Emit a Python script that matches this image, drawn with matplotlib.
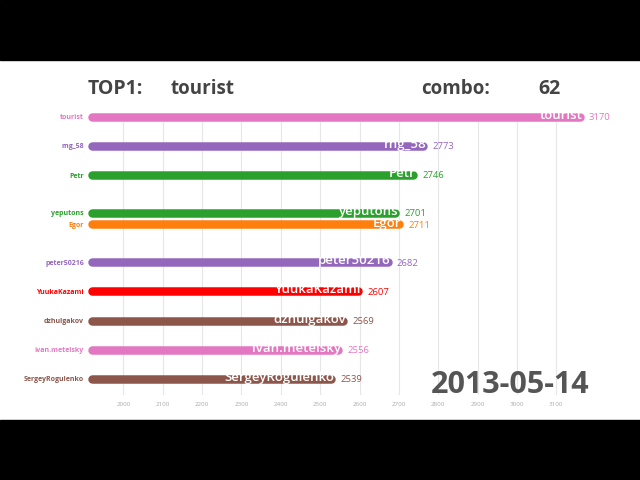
import matplotlib
matplotlib.use("Agg")
import matplotlib.pyplot as plt
from matplotlib.patches import Rectangle

# ---- data ----
names = ["tourist", "rng_58", "Petr", "yeputons", "Egor", "peter50216",
         "YuukaKazami", "dzhulgakov", "ivan.metelsky", "SergeyRogulenko"]
ratings = [3170, 2773, 2746, 2701, 2711, 2682, 2607, 2569, 2556, 2539]
positions = [0, 1, 2, 3.3, 3.7, 5, 6, 7, 8, 9]   # animated rank positions
xticks = [2000, 2100, 2200, 2300, 2400, 2500, 2600, 2700, 2800, 2900, 3000, 3100]
top_name = "tourist"
combo = 62
date_label = "2013-05-14"

colors = ["#e377c2", "#9467bd", "#2ca02c", "#2ca02c", "#ff7f0e", "#9467bd",
          "#ff0000", "#8c564b", "#e377c2", "#8c564b"]

plt.rcParams["font.family"] = ["Open Sans", "DejaVu Sans"]

W, H = 640, 480
fig = plt.figure(figsize=(6.4, 4.8), dpi=100, facecolor="white")

# black letterbox bands
fig.add_artist(Rectangle((0, 0), 1, 60 / H, transform=fig.transFigure,
                         color="black", zorder=0))
fig.add_artist(Rectangle((0, 1 - 60 / H), 1, 60 / H, transform=fig.transFigure,
                         color="black", zorder=0))

ax_left, ax_right = 88, 600
ax_top, ax_bot = 122, 395
ax = fig.add_axes([ax_left / W, 1 - ax_bot / H, (ax_right - ax_left) / W,
                   (ax_bot - ax_top) / H])
ax.set_facecolor("none")

for s in ax.spines.values():
    s.set_visible(False)

ax.set_xticks(xticks)
ax.set_xticklabels([str(t) for t in xticks], fontsize=4.5, color="#aaaaaa")
ax.tick_params(axis="x", length=0, pad=5)
ax.grid(axis="x", color="#e6e6e6", linewidth=0.8)
ax.set_axisbelow(True)
ax.set_yticks([])

xmin, xmax = 1910, 3211
ax.set_xlim(xmin, xmax)
row0, row_px = 116.8, 29.1
ax.set_ylim((ax_bot - row0) / row_px, (ax_top - row0) / row_px)

px_per_unit = (ax_right - ax_left) / (xmax - xmin)
bar_px = 8.5
cap = (bar_px / 2) / px_per_unit
for n, v, p, c in zip(names, ratings, positions, colors):
    ax.plot([xmin + cap, v - cap], [p, p], color=c, linewidth=bar_px * 0.72,
            solid_capstyle="round", clip_on=False, zorder=3)
    # category label on the left
    ax.annotate(n, xy=(0, p), xycoords=("axes fraction", "data"),
                xytext=(-3, 0), textcoords="offset points",
                fontsize=5, fontweight="bold", color=c,
                ha="right", va="center_baseline", annotation_clip=False)
    ax.text(v - 1.5 / px_per_unit, p - 0.05, n, color="white", fontsize=9.5,
            fontweight="semibold", ha="right", va="center", zorder=4,
            clip_on=False)
    ax.text(v + 5 / px_per_unit, p, str(v), color=c, fontsize=6.8,
            ha="left", va="center_baseline", zorder=4, clip_on=False)

tc = "#444444"
fig.text(88 / W, 1 - 89 / H, "TOP1:", fontsize=14, fontweight="bold",
         color=tc, ha="left", va="center")
fig.text(171 / W, 1 - 89 / H, top_name, fontsize=13.5, fontweight="bold",
         color=tc, ha="left", va="center")
fig.text(421 / W, 1 - 89 / H, "combo:", fontsize=13.5, fontweight="bold",
         color=tc, ha="left", va="center")
fig.text(538 / W, 1 - 89 / H, str(combo), fontsize=14, fontweight="bold",
         color=tc, ha="left", va="center")
fig.text(510 / W, 1 - 385 / H, date_label, fontsize=22, fontweight="bold",
         color="#555555", ha="center", va="center")

fig.savefig("out.png", dpi=100, facecolor="white")
